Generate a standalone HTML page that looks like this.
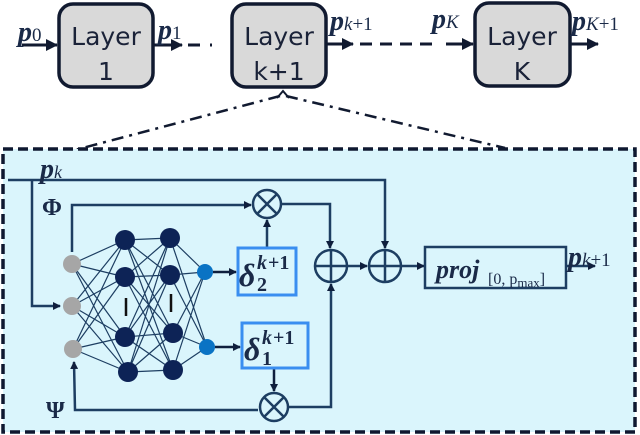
<!DOCTYPE html>
<html><head><meta charset="utf-8"><style>
body{margin:0;background:#fff}
svg{display:block}
.lt{font-family:"DejaVu Sans",sans-serif;font-size:25px;fill:#1a2238}
.m{font-family:"Liberation Serif",serif;font-weight:bold;font-style:italic;fill:#1a2a48}
.r{font-family:"Liberation Serif",serif;fill:#1a2a48}
</style></head><body>
<svg width="640" height="435" viewBox="0 0 640 435" xmlns="http://www.w3.org/2000/svg">
<defs>
<marker id="a" markerWidth="8" markerHeight="8" refX="7" refY="4" orient="auto" markerUnits="userSpaceOnUse"><path d="M0,0 L8,4 L0,8 z" fill="#0f1f3d"/></marker>
<marker id="b" markerWidth="12" markerHeight="12" refX="11" refY="6" orient="auto" markerUnits="userSpaceOnUse"><path d="M0,0 L12,6 L0,12 z" fill="#111a30"/></marker>
</defs>
<g stroke="#111a30" stroke-width="3.5" fill="#d9d9d9">
<rect x="59" y="4" width="94" height="83" rx="14"/>
<rect x="232" y="4" width="94" height="83" rx="14"/>
<rect x="475" y="3" width="95" height="83" rx="14"/>
</g>
<text class="lt" x="106" y="45" text-anchor="middle">Layer</text>
<text class="lt" x="106" y="80" text-anchor="middle">1</text>
<text class="lt" x="279" y="45" text-anchor="middle">Layer</text>
<text class="lt" x="279" y="80" text-anchor="middle">k+1</text>
<text class="lt" x="522" y="45" text-anchor="middle">Layer</text>
<text class="lt" x="522" y="80" text-anchor="middle">K</text>
<g stroke="#111a30" stroke-width="3" fill="none">
<line x1="22" y1="45" x2="57" y2="45" marker-end="url(#b)"/>
<line x1="153" y1="45" x2="182" y2="45" marker-end="url(#b)"/>
<line x1="188" y1="45" x2="200" y2="45"/>
<line x1="210" y1="45" x2="212" y2="45"/>
<line x1="326" y1="44" x2="353" y2="44" marker-end="url(#b)"/>
<line x1="360" y1="44" x2="432" y2="44" stroke-dasharray="12,8"/>
<line x1="446" y1="44" x2="473" y2="44" marker-end="url(#b)"/>
<line x1="570" y1="44" x2="598" y2="44" marker-end="url(#b)"/>
<line x1="280" y1="96" x2="75" y2="150" stroke-width="2.5" stroke-dasharray="12,6,3,6"/>
<line x1="286" y1="96" x2="505" y2="148" stroke-width="2.5" stroke-dasharray="12,6,3,6"/>
<path d="M277,98 L283,91 L289,98" stroke-width="2"/>
</g>
<text class="m" x="18" y="41" font-size="28">p<tspan class="r" font-size="19" font-style="normal" font-weight="normal">0</tspan></text>
<text class="m" x="158" y="39" font-size="28">p<tspan class="r" font-size="19" font-style="normal" font-weight="normal">1</tspan></text>
<text class="m" x="330" y="30" font-size="28">p<tspan font-size="19" font-weight="normal">k</tspan><tspan class="r" font-size="19" font-style="normal" font-weight="normal">+1</tspan></text>
<text class="m" x="432" y="28" font-size="28">p<tspan font-size="19" font-weight="normal">K</tspan></text>
<text class="m" x="572" y="30" font-size="28">p<tspan font-size="19" font-weight="normal">K</tspan><tspan class="r" font-size="19" font-style="normal" font-weight="normal">+1</tspan></text>
<rect x="3" y="149" width="632" height="283" fill="#daf5fc" stroke="#0f1830" stroke-width="3.5" stroke-dasharray="10,5"/>
<g stroke="#1d3e62" stroke-width="2.5" fill="none">
<polyline points="8,180 385,180 385,248" marker-end="url(#a)"/>
<polyline points="32,180 32,306 60,306" marker-end="url(#a)"/>
<polyline points="72,252 72,205 251,205" marker-end="url(#a)"/>
<polyline points="258,410 75,410 74,362" marker-end="url(#a)"/>
<circle cx="267" cy="204" r="14"/>
<path d="M257,194 L277,214 M277,194 L257,214"/>
<circle cx="274" cy="407" r="14"/>
<path d="M264,397 L284,417 M284,397 L264,417"/>
<polyline points="281,204 330,204 330,248" marker-end="url(#a)"/>
<polyline points="288,407 331,407 331,284" marker-end="url(#a)"/>
<line x1="267" y1="248" x2="267" y2="220" marker-end="url(#a)"/>
<line x1="274" y1="368" x2="274" y2="391" marker-end="url(#a)" stroke="#0f1f3d"/>
<circle cx="331" cy="266" r="16"/>
<path d="M315,266 H347 M331,250 V282"/>
<circle cx="385" cy="266" r="16"/>
<path d="M369,266 H401 M385,250 V282"/>
<line x1="347" y1="266" x2="367" y2="266" marker-end="url(#a)"/>
<line x1="401" y1="266" x2="424" y2="266" marker-end="url(#a)"/>
<rect x="425" y="247" width="141" height="41"/>
<line x1="566" y1="266" x2="595" y2="266" marker-end="url(#a)"/>
<line x1="213" y1="272" x2="236" y2="272" marker-end="url(#a)" stroke="#0f1f3d"/>
<line x1="215" y1="347" x2="240" y2="347" marker-end="url(#a)" stroke="#0f1f3d"/>
</g>
<g stroke="#1d3e62" stroke-width="1.2">
<path d="M72,264 L125,240 M72,264 L125,277 M72,264 L125,337 M72,264 L128,372
M72,306 L125,240 M72,306 L125,277 M72,306 L125,337 M72,306 L128,372
M73,349 L125,240 M73,349 L125,277 M73,349 L125,337 M73,349 L128,372
M125,240 L170,238 M125,240 L170,275 M125,240 L173,333 M125,240 L173,370
M125,277 L170,238 M125,277 L170,275 M125,277 L173,333 M125,277 L173,370
M125,337 L170,238 M125,337 L170,275 M125,337 L173,333 M125,337 L173,370
M128,372 L170,238 M128,372 L170,275 M128,372 L173,333 M128,372 L173,370
M170,238 L205,272 M170,275 L205,272 M173,333 L205,272 M173,370 L205,272
M170,238 L207,347 M170,275 L207,347 M173,333 L207,347 M173,370 L207,347"/>
</g>
<g fill="#a6a6a6"><circle cx="72" cy="264" r="9"/><circle cx="72" cy="306" r="9"/><circle cx="73" cy="349" r="9"/></g>
<g fill="#0d2356"><circle cx="125" cy="240" r="10"/><circle cx="125" cy="277" r="10"/><circle cx="125" cy="337" r="10"/><circle cx="128" cy="372" r="10"/>
<circle cx="170" cy="238" r="10"/><circle cx="170" cy="275" r="10"/><circle cx="173" cy="333" r="10"/><circle cx="173" cy="370" r="10"/></g>
<g stroke="#111" stroke-width="2.5"><line x1="126" y1="298" x2="126" y2="316"/><line x1="171" y1="294" x2="171" y2="312"/></g>
<g fill="#0a73c4"><circle cx="205" cy="272" r="8"/><circle cx="207" cy="347" r="8"/></g>
<rect x="238" y="248" width="58" height="47" fill="#daf5fc" stroke="#3a8ef0" stroke-width="3"/>
<rect x="242" y="323" width="66" height="45" fill="#daf5fc" stroke="#3a8ef0" stroke-width="3"/>
<text class="m" x="239" y="286" font-size="32">δ</text><text class="m" x="257" y="269" font-size="20">k</text><text class="r" x="268" y="269" font-size="20" font-weight="bold">+1</text><text class="r" x="257" y="291" font-size="20" font-weight="bold">2</text>
<text class="m" x="244" y="360" font-size="32">δ</text><text class="m" x="262" y="344" font-size="20">k</text><text class="r" x="273" y="344" font-size="20" font-weight="bold">+1</text><text class="r" x="262" y="365" font-size="20" font-weight="bold">1</text>
<text class="m" x="40" y="178" font-size="28">p<tspan font-size="18" font-weight="normal">k</tspan></text>
<text class="r" x="42" y="215" font-size="24" font-weight="bold">Φ</text>
<text class="r" x="46" y="418" font-size="24" font-weight="bold">Ψ</text>
<text class="m" x="436" y="278" font-size="26">proj</text><text class="r" x="488" y="284" font-size="16">[0, p<tspan font-size="13" dy="3">max</tspan><tspan dy="-3">]</tspan></text>
<text class="m" x="568" y="266" font-size="28">p<tspan font-size="19" font-weight="normal">k</tspan><tspan class="r" font-size="19" font-style="normal" font-weight="normal">+1</tspan></text>
</svg>
</body></html>
